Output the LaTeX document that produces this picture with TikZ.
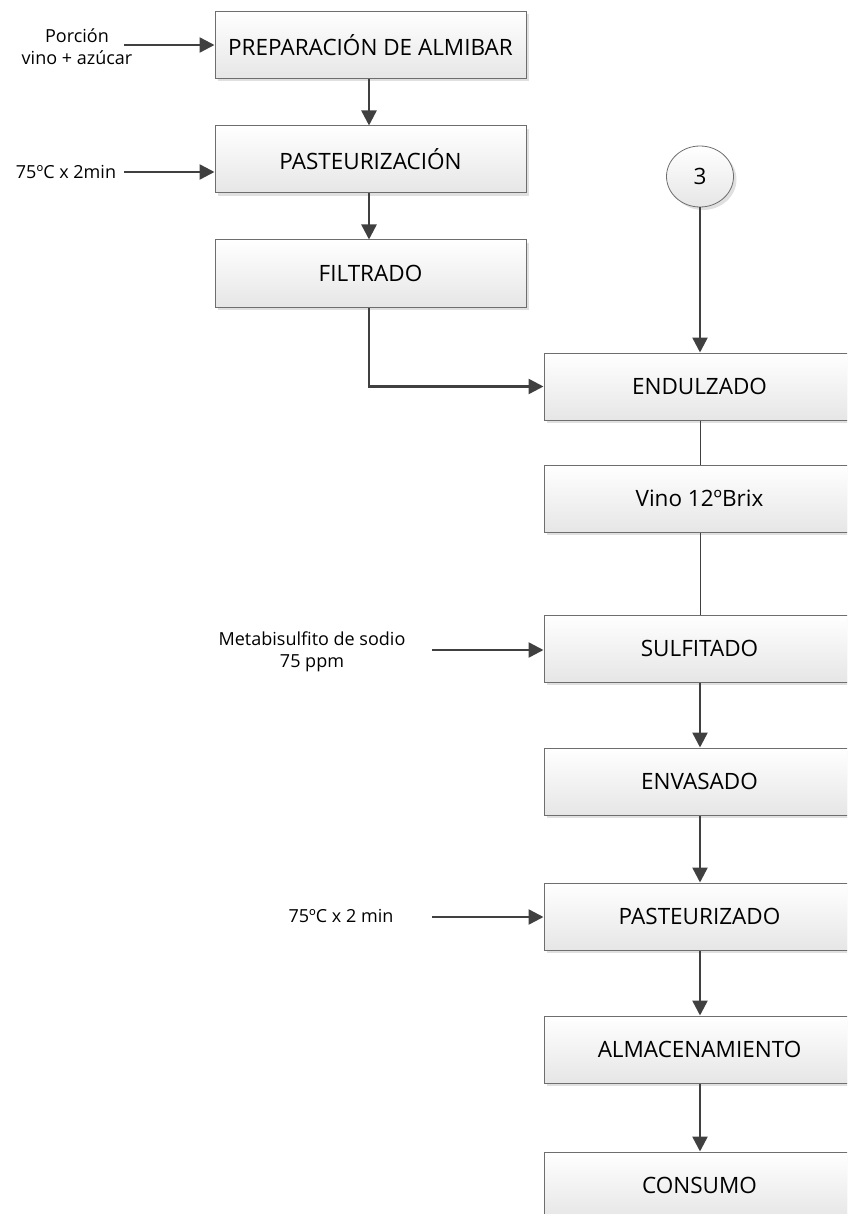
\documentclass[tikz,border=0pt]{standalone}
\usepackage{fontspec}
\setmainfont{Open Sans}
\usetikzlibrary{arrows.meta,shadows,shapes.geometric}
\definecolor{edge}{HTML}{6E6E6E}
\definecolor{ink}{HTML}{404040}
\definecolor{boxlow}{HTML}{E6E6E6}
\tikzset{
  stepbox/.style={rectangle, draw=edge, line width=1pt,
    top color=white, bottom color=boxlow,
    minimum width=311pt, minimum height=67pt, inner sep=0pt,
    font=\fontsize{22.5}{26}\selectfont,
    drop shadow={shadow xshift=3pt, shadow yshift=-3pt, fill=black!12, opacity=1}},
  linkcircle/.style={ellipse, draw=edge, line width=0.8pt,
    top color=white, bottom color=boxlow,
    minimum width=67pt, minimum height=61pt, inner sep=0pt,
    font=\fontsize{22.5}{26}\selectfont,
    drop shadow={shadow xshift=3pt, shadow yshift=-3pt, fill=black!12, opacity=1}},
  inlabel/.style={align=center, inner sep=0pt, font=\fontsize{18}{22}\selectfont},
  flow/.style={draw=ink, line width=2.5pt, -{Triangle[length=15pt,width=15pt]}},
  thinlink/.style={draw=ink, line width=1pt},
}
\begin{document}
\begin{tikzpicture}[x=1pt,y=-1pt]
\useasboundingbox (0,0) rectangle (847,1214);
\clip (0,0) rectangle (847,1214);

% left column
\node[stepbox] (prep) at (370.5,45) {PREPARACIÓN DE ALMIBAR};
\node[stepbox] (past) at (370.5,159.5) {PASTEURIZACIÓN};
\node[stepbox] (filt) at (370.5,273.5) {FILTRADO};

% right column
\node[linkcircle] (c3) at (700,176.5) {3};
\node[stepbox] (endu) at (699.5,386.5) {ENDULZADO};
\node[stepbox] (vino) at (699.5,498.5) {Vino 12ºBrix};
\node[stepbox] (sulf) at (699.5,648.5) {SULFITADO};
\node[stepbox] (enva) at (699.5,781.5) {ENVASADO};
\node[stepbox] (pazo) at (699.5,916.5) {PASTEURIZADO};
\node[stepbox] (alma) at (699.5,1049.5) {ALMACENAMIENTO};
\node[stepbox] (cons) at (699.5,1185.5) {CONSUMO};

% inputs
\node[inlabel] (l1) at (77,47) {Porción\\vino + azúcar};
\coordinate (i1) at (124,45);
\node[inlabel] (l2) at (66,172) {75ºC x 2min};
\coordinate (i2) at (124,172);
\node[inlabel] (l3) at (312,652) {Metabisulfito de sodio\\75 ppm};
\coordinate (i3) at (432,650);
\node[inlabel] (l4) at (341,916) {75ºC x 2 min};
\coordinate (i4) at (432,917);

% connectors
\draw[flow] (i1) -- (i1 -| prep.west);
\draw[flow] (i2) -- (i2 -| past.west);
\draw[flow] (i3) -- (i3 -| sulf.west);
\draw[flow] (i4) -- (i4 -| pazo.west);

\draw[flow] (prep.south -| 369,0) -- (past.north -| 369,0);
\draw[flow] (past.south -| 369,0) -- (filt.north -| 369,0);
\draw[flow] (filt.south -| 369,0) |- (endu.west);
\draw[flow] (c3.south) -- (c3.south |- endu.north);

\draw[thinlink] (endu.south -| 700,0) -- (vino.north -| 700,0);
\draw[thinlink] (vino.south -| 700,0) -- (sulf.north -| 700,0);
\draw[flow] (sulf.south -| 700,0) -- (enva.north -| 700,0);
\draw[flow] (enva.south -| 700,0) -- (pazo.north -| 700,0);
\draw[flow] (pazo.south -| 700,0) -- (alma.north -| 700,0);
\draw[flow] (alma.south -| 700,0) -- (cons.north -| 700,0);
\end{tikzpicture}
\end{document}
